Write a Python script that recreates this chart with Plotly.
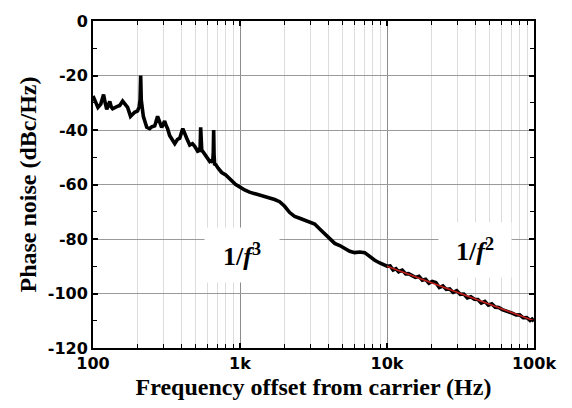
import plotly.graph_objects as go

# Measured single-sideband phase noise (offset frequency in Hz, level in dBc/Hz)
offset_hz = [
    100, 104, 108, 113, 118, 121, 124, 127, 130, 133, 136, 144, 152, 159, 166,
    172, 180, 186, 192, 201, 206, 209, 211, 213, 216, 220, 232, 243, 252, 263,
    275, 284, 293, 300, 307, 315, 322, 332, 345, 360, 375, 389, 408, 420, 434,
    455, 475, 492, 505, 515, 530, 536, 540, 544, 550, 557, 575, 594, 610, 622,
    640, 652, 658, 662, 666, 672, 684, 710, 751, 800, 851, 900, 935, 970, 1000,
    1075, 1161, 1260, 1360, 1470, 1590, 1720, 1860, 2012, 2178, 2355, 2547,
    2750, 2980, 3223, 3486, 3770, 4077, 4410, 4770, 5158, 5578, 6032, 6524,
    7056, 7631, 8253, 8926, 10000, 10500, 11000, 11500, 12000, 12700, 13400,
    14000, 14800, 15600, 16500, 17400, 18300, 19300, 20300, 21500, 22700,
    24000, 25300, 26700, 28200, 29800, 31500, 33300, 35200, 37200, 39300,
    41500, 43800, 46300, 48900, 51600, 54500, 57600, 60800, 64200, 67800,
    71600, 75600, 79900, 84400, 89100, 94100, 97000, 100000,
]
phase_noise_dbc = [
    -27.5, -29.5, -31.7, -30.5, -27.0, -30.0, -32.4, -31.0, -29.5, -31.5,
    -32.2, -31.5, -31.0, -29.4, -30.5, -31.7, -35.0, -34.0, -33.5, -33.0,
    -31.5, -29.0, -20.0, -29.0, -33.5, -35.0, -39.0, -39.5, -38.8, -38.5,
    -35.0, -37.5, -39.0, -38.0, -36.7, -38.5, -39.5, -42.0, -43.5, -45.0,
    -43.5, -43.0, -39.5, -41.5, -43.0, -45.5, -45.0, -46.0, -47.0, -47.8,
    -47.5, -46.0, -39.0, -46.5, -48.0, -47.8, -49.0, -50.0, -50.8, -51.5,
    -51.0, -52.0, -48.0, -40.0, -49.0, -52.5, -52.7, -54.0, -55.6, -56.5,
    -58.0, -59.0, -60.0, -60.5, -61.0, -62.0, -62.8, -63.3, -63.8, -64.3,
    -64.8, -65.5, -66.3, -68.0, -70.3, -71.7, -72.4, -73.0, -73.8, -74.5,
    -76.3, -78.0, -80.0, -81.6, -82.4, -83.5, -84.5, -85.0, -84.8, -85.0,
    -86.6, -87.8, -88.8, -90.0, -89.9, -91.4, -90.9, -92.0, -91.4, -92.8,
    -92.7, -93.6, -94.1, -93.7, -95.1, -94.8, -96.2, -95.6, -96.0, -97.8,
    -97.2, -98.5, -98.3, -99.6, -99.0, -100.3, -100.2, -101.6, -101.2, -102.1,
    -102.2, -103.5, -102.9, -104.3, -103.8, -105.0, -105.1, -105.9, -106.3,
    -106.8, -107.3, -107.9, -107.8, -108.9, -108.8, -109.9, -109.4, -110.2,
]

# 1/f^2 fit over the last decade
fit_hz = [10000, 100000]
fit_dbc = [-90.0, -110.0]

# Axis ticks
x_major = [100, 1000, 10000, 100000]
x_major_text = ["100", "1k", "10k", "100k"]
x_minor = [m * d for d in (100, 1000, 10000) for m in range(2, 10)]
y_major = [0, -20, -40, -60, -80, -100, -120]
y_major_text = [str(v) for v in y_major]

tick_font = dict(family="DejaVu Sans", size=16, color="black", weight="bold")
title_font = dict(family="Liberation Serif", size=24, color="black", weight="bold")
slope_font = dict(family="Liberation Serif", size=26, color="black")

fig = go.Figure()
fig.add_trace(go.Scatter(
    x=offset_hz, y=phase_noise_dbc, mode="lines",
    line=dict(color="black", width=3.6), showlegend=False,
))
fig.add_trace(go.Scatter(
    x=fit_hz, y=fit_dbc, mode="lines",
    line=dict(color="#c0201e", width=1.5), showlegend=False,
))

fig.add_annotation(
    x=3.012, y=-86.0, xref="x", yref="y",
    text="<b>1/<i>f</i><sup>3</sup></b>", showarrow=False,
    font=slope_font, bgcolor="white", width=72, height=52,
)
fig.add_annotation(
    x=4.597, y=-84.0, xref="x", yref="y",
    text="<b>1/<i>f</i><sup>2</sup></b>", showarrow=False,
    font=slope_font, bgcolor="white", width=70, height=52,
)

fig.update_layout(
    width=572, height=408,
    margin=dict(l=93, r=38, t=19, b=53),
    paper_bgcolor="white", plot_bgcolor="white",
)
fig.update_xaxes(
    type="log", range=[2, 5],
    tickmode="array", tickvals=x_major, ticktext=x_major_text,
    ticks="inside", ticklen=5, tickwidth=1.5, tickcolor="black",
    tickfont=tick_font,
    showgrid=True, gridcolor="#8c8c8c", gridwidth=1,
    showline=True, linecolor="black", linewidth=2, mirror="allticks",
    minor=dict(tickmode="array", tickvals=x_minor, ticks="inside", ticklen=4,
               tickcolor="black", tickwidth=1.2,
               showgrid=True, gridcolor="#dcdcdc", gridwidth=1),
    title=dict(text="Frequency offset from carrier (Hz)", font=title_font, standoff=6),
    zeroline=False,
)
fig.update_yaxes(
    range=[-120, 0],
    tickmode="array", tickvals=y_major, ticktext=y_major_text,
    ticks="inside", ticklen=5, tickwidth=1.5, tickcolor="black",
    tickfont=tick_font,
    showgrid=True, gridcolor="#9a9a9a", gridwidth=1,
    showline=True, linecolor="black", linewidth=2, mirror="allticks",
    minor=dict(dtick=10, ticks="inside", ticklen=4, tickcolor="black",
               tickwidth=1.2, showgrid=False),
    title=dict(text="Phase noise (dBc/Hz)", font=title_font, standoff=4),
    zeroline=False,
)

fig.write_html("out.html")
